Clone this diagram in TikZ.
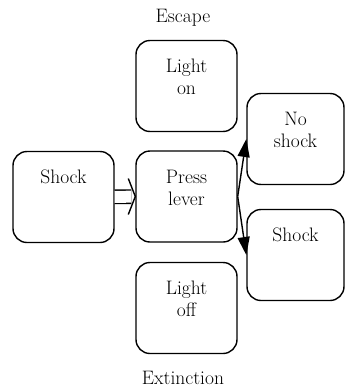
\documentclass[tikz,border=0pt]{standalone}
\usepackage{tikz}
\usetikzlibrary{arrows.meta,positioning,calc}

\newcommand{\tbox}[2]{\parbox[c][91pt][t]{#1}{\centering\rule{0pt}{32pt}#2}}

\begin{document}
\begin{tikzpicture}[x=1pt,y=-1pt,
    font=\fontsize{19.5}{22}\selectfont,
    box/.style={draw,line width=1.4pt,rounded corners=14pt,inner sep=0pt}]
  \useasboundingbox (0,0) rectangle (345,389);

  \node (escape) at (183,18) {Escape};
  \node[box] (lighton) at (186.5,86) {\tbox{101pt}{Light\\on}};
  \node[box] (shockL) at (63.5,197) {\tbox{101pt}{Shock}};
  \node[box] (press) at (186.5,196.5) {\tbox{101pt}{Press\\lever}};
  \node[box] (lightoff) at (186.5,308) {\tbox{101pt}{Light\\off}};
  \node[box] (noshock) at (295.5,139) {\tbox{97pt}{No\\shock}};
  \node[box] (shockR) at (295.5,255) {\tbox{97pt}{Shock}};
  \node (extinction) at (183,378) {Extinction};

  % hollow arrow into the lever box
  \draw[line width=1.4pt,double distance=12pt,shorten >=4pt] (shockL) -- (press);
  \draw[line width=1.4pt] ($(press.west)+(-7,-18)$) -- (press.west) -- ($(press.west)+(-7,18)$);

  \draw[line width=1.4pt,-{Triangle[length=18pt,width=12pt]}] (press.east) -- (noshock.west);
  \draw[line width=1.4pt,-{Triangle[length=18pt,width=12pt]}] (press.east) -- (shockR.west);
\end{tikzpicture}
\end{document}
